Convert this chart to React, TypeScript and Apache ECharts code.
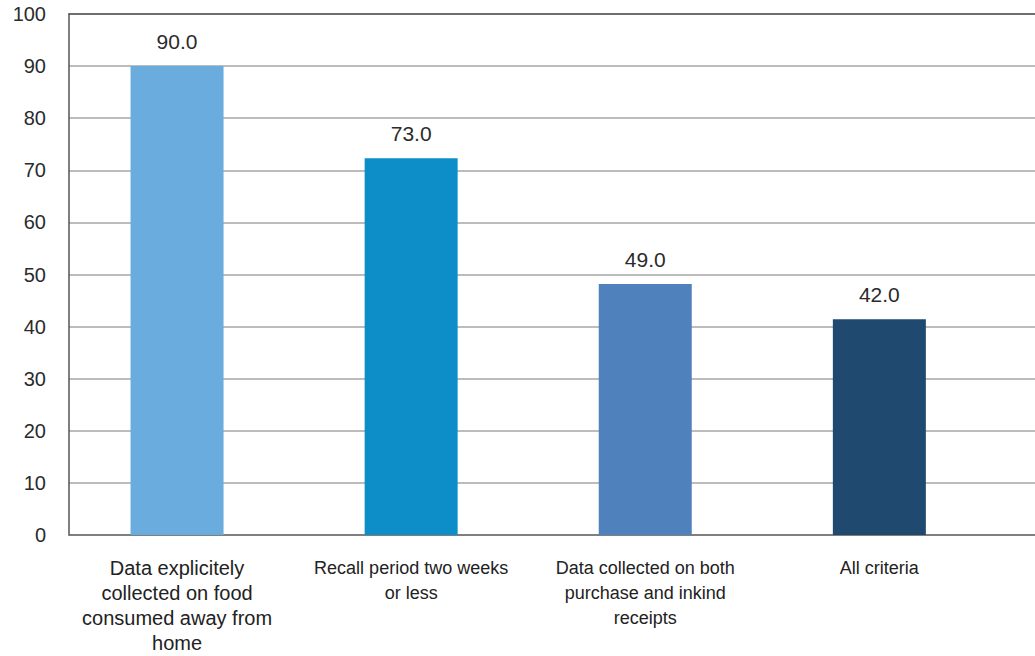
import React, { useEffect, useRef } from "react";
import * as echarts from "echarts";

const categories: string[] = [
  "Data explicitely\ncollected on food\nconsumed away from\nhome",
  "Recall period two weeks\nor less",
  "Data collected on both\npurchase and inkind\nreceipts",
  "All criteria",
];
const barValues: number[] = [90, 72.3, 48.2, 41.4];
const labelTexts: string[] = ["90.0", "73.0", "49.0", "42.0"];
const barColors: string[] = ["#6AACDE", "#0E8EC9", "#4F81BD", "#1F496E"];
const yMin = 0;
const yMax = 100;
const yInterval = 10;

export default function App() {
  const ref = useRef<HTMLDivElement>(null);
  useEffect(() => {
    if (!ref.current) return;
    const chart = echarts.init(ref.current, null, { renderer: "svg" });
    const font = "'Liberation Sans', Arial, sans-serif";
    const narrow = "'Liberation Sans Narrow', 'Arial Narrow', 'Liberation Sans', sans-serif";
    chart.setOption({
      animation: false,
      backgroundColor: "#ffffff",
      grid: [
        { left: 69, right: 0, top: 14, bottom: 121, containLabel: false },
        { left: 60, right: 38.6, top: 14, bottom: 121, containLabel: false },
      ],
      xAxis: [
        {
          gridIndex: 0, type: "value", min: 0, max: 1, position: "bottom",
          axisLine: { show: true, lineStyle: { color: "#6b6b6b", width: 1.5 } },
          axisTick: { show: false }, axisLabel: { show: false }, splitLine: { show: false },
        },
        {
          gridIndex: 0, type: "value", min: 0, max: 1, position: "top",
          axisLine: { show: true, lineStyle: { color: "#555555", width: 1.5 } },
          axisTick: { show: false }, axisLabel: { show: false }, splitLine: { show: false },
        },
        {
          gridIndex: 1, type: "category", data: categories, position: "bottom",
          axisLine: { show: false }, axisTick: { show: false },
          axisLabel: {
            interval: 0,
            margin: 20,
            formatter: (v: string, i: number) => {
              const tag = i === 0 ? "a" : "n";
              return v.split("\n").map((s) => `{${tag}|${s}}`).join("\n");
            },
            rich: {
              a: { fontFamily: font, fontSize: 20, color: "#222222", lineHeight: 25 },
              n: { fontFamily: narrow, fontSize: 18, color: "#222222", lineHeight: 25 },
            },
          },
        },
      ],
      yAxis: [
        {
          gridIndex: 0, type: "value", min: yMin, max: yMax, interval: yInterval,
          axisLine: { show: true, lineStyle: { color: "#555555", width: 1.5 } },
          axisTick: { show: false },
          axisLabel: { fontFamily: font, fontSize: 20, color: "#2b2b2b", margin: 23 },
          splitLine: { show: true, lineStyle: { color: "#a6a6a6", width: 1.5 } },
        },
        {
          gridIndex: 1, type: "value", min: yMin, max: yMax, interval: yInterval, show: false,
          splitLine: { show: false },
        },
      ],
      series: [
        {
          type: "bar",
          xAxisIndex: 2,
          yAxisIndex: 1,
          barWidth: 93,
          data: barValues.map((v, i) => ({ value: v, itemStyle: { color: barColors[i] } })),
          label: {
            show: true,
            position: "top",
            distance: 14,
            fontFamily: font,
            fontSize: 21,
            color: "#2b2b2b",
            formatter: (p: any) => labelTexts[p.dataIndex],
          },
        },
      ],
    });
    return () => chart.dispose();
  }, []);
  return (
    <div
      ref={ref}
      style={{ position: "absolute", left: 0, top: 0, width: 1035, height: 656 }}
    />
  );
}
